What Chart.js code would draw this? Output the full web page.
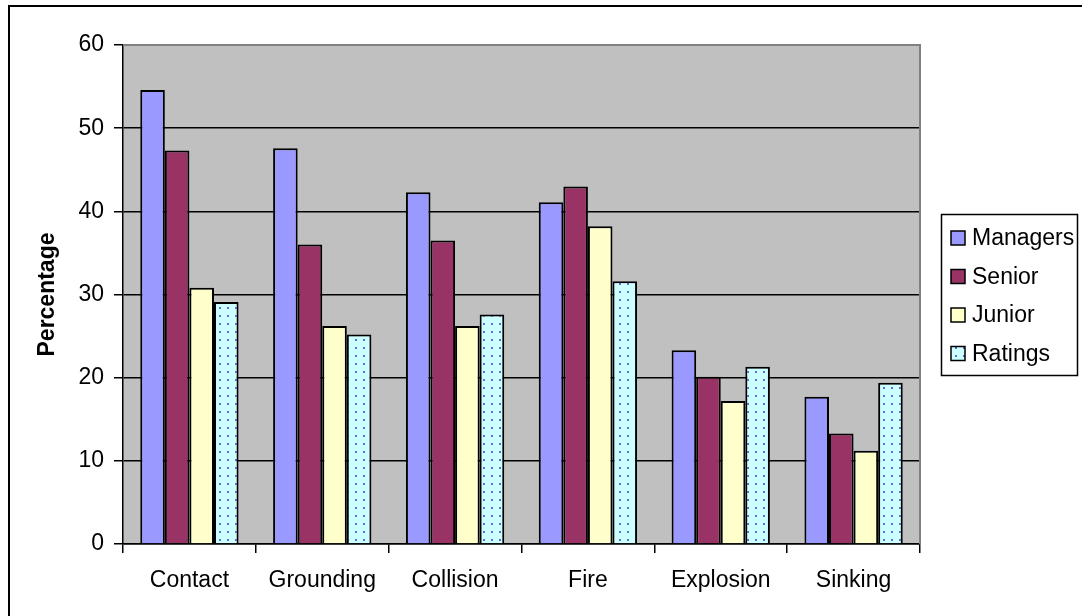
<!DOCTYPE html>
<html>
<head>
  <title>Accident types by rank</title>
  <script src="https://cdn.jsdelivr.net/npm/chart.js@4.4.1/dist/chart.umd.min.js"></script>
  <style>
    html, body { margin: 0; padding: 0; background: #fff; }
  </style>
</head>
<body>
  <canvas id="accidents" width="1082" height="616"></canvas>
  <script>
    // values
    var categories = ['Contact', 'Grounding', 'Collision', 'Fire', 'Explosion', 'Sinking'];
    var seriesNames = ['Managers', 'Senior', 'Junior', 'Ratings'];
    var managers = [54.6, 47.6, 42.3, 41.1, 23.3, 17.7];
    var senior = [47.3, 36.0, 36.5, 43.0, 20.1, 13.3];
    var junior = [30.8, 26.2, 26.2, 38.2, 17.2, 11.2];
    var ratings = [29.1, 25.2, 27.6, 31.6, 21.3, 19.4];
    var yTicks = [0, 10, 20, 30, 40, 50, 60];

    var FONT = "'Liberation Sans', Arial, sans-serif";

    // light cyan with blue dots, like the excel fill
    function dotPattern() {
      var c = document.createElement('canvas');
      c.width = 8; c.height = 8;
      var g = c.getContext('2d');
      g.fillStyle = '#CCFFFF';
      g.fillRect(0, 0, 8, 8);
      g.fillStyle = 'rgba(80,80,210,0.85)';
      g.fillRect(3, 3, 2, 2);
      return g.createPattern(c, 'repeat');
    }
    var ctx = document.getElementById('accidents').getContext('2d');
    var dots = dotPattern();

    var fills = ['#9999FF', '#993366', '#FFFFCC', dots];
    var seriesData = [managers, senior, junior, ratings];

    var plotFrame = {
      id: 'plotFrame',
      beforeDraw: function(chart) {
        var a = chart.chartArea, g = chart.ctx;
        g.save();
        g.fillStyle = '#C0C0C0';
        g.fillRect(a.left, a.top, a.right - a.left, a.bottom - a.top);
        g.restore();
      },
      afterDraw: function(chart) {
        var a = chart.chartArea, g = chart.ctx;
        g.save();
        // gray top/right border of the plot area
        g.strokeStyle = '#808080';
        g.lineWidth = 2;
        g.beginPath();
        g.moveTo(a.left, a.top);
        g.lineTo(a.right, a.top);
        g.lineTo(a.right, a.bottom);
        g.stroke();
        // outer frame (only left and top visible)
        g.strokeStyle = '#000';
        g.lineWidth = 2;
        g.beginPath();
        g.moveTo(9, 620);
        g.lineTo(9, 6);
        g.lineTo(1090, 6);
        g.stroke();
        // legend
        g.lineWidth = 1.5;
        g.strokeRect(941.5, 214.5, 136, 161);
        g.font = '23px ' + FONT;
        g.textBaseline = 'middle';
        g.textAlign = 'left';
        for (var i = 0; i < seriesNames.length; i++) {
          var cy = 238 + i * 38.5;
          g.fillStyle = fills[i];
          g.fillRect(951, cy - 7, 14, 14);
          g.strokeStyle = '#000';
          g.lineWidth = 1.5;
          g.strokeRect(951, cy - 7, 14, 14);
          g.fillStyle = '#000';
          g.fillText(seriesNames[i], 972, cy + 1);
        }
        g.restore();
      }
    };

    var chart = new Chart(ctx, {
      type: 'bar',
      data: {
        labels: categories,
        datasets: seriesNames.map(function(name, i) {
          return {
            label: name,
            data: seriesData[i],
            backgroundColor: fills[i],
            borderColor: '#000',
            borderWidth: 2,
            categoryPercentage: 0.74,
            barPercentage: 1.0
          };
        })
      },
      options: {
        responsive: false,
        animation: false,
        layout: { padding: { left: 30, top: 45, right: 162, bottom: 0 } },
        plugins: {
          legend: { display: false },
          tooltip: { enabled: false }
        },
        scales: {
          x: {
            offset: true,
            grid: { display: true, drawOnChartArea: false, color: '#000', tickLength: 9, lineWidth: 1.5 },
            border: { color: '#000', width: 1.5 },
            ticks: { color: '#000', font: { family: FONT, size: 23 }, padding: 14, maxRotation: 0 },
            afterFit: function(s) { s.height = 72; }
          },
          y: {
            min: 0,
            max: 60,
            afterBuildTicks: function(s) { s.ticks = yTicks.map(function(v) { return { value: v }; }); },
            grid: { color: '#000', lineWidth: 1.5, tickLength: 9, tickColor: '#000' },
            border: { color: '#000', width: 1.5 },
            ticks: { color: '#000', font: { family: FONT, size: 23 }, padding: 10 },
            title: {
              display: true,
              text: 'Percentage',
              color: '#000',
              font: { family: FONT, size: 23, weight: 'bold' },
              padding: { top: 4, bottom: 0 }
            },
            afterFit: function(s) { s.width = 93; }
          }
        }
      },
      plugins: [plotFrame]
    });
  </script>
</body>
</html>
